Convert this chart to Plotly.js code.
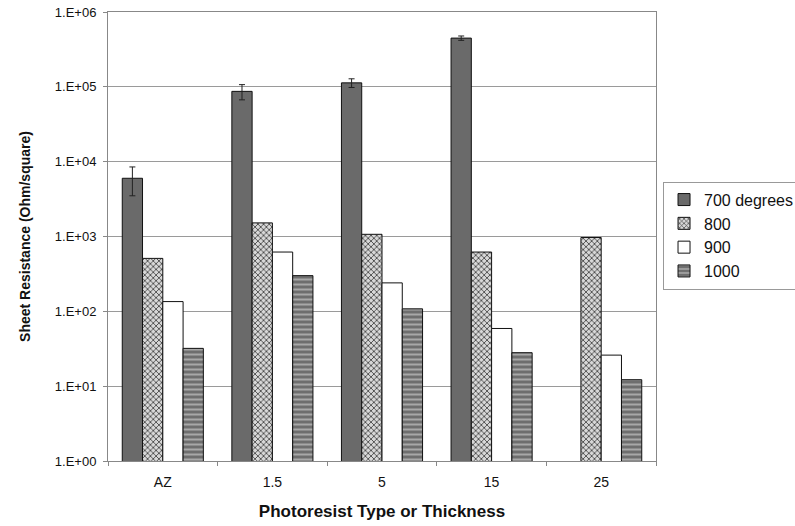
<!DOCTYPE html>
<html>
<head>
<meta charset="utf-8">
<script src="https://cdn.plot.ly/plotly-3.0.1.min.js"></script>
<style>html,body{margin:0;padding:0;background:#fff;}#chart{width:795px;height:526px;}</style>
</head>
<body>
<div id="chart"></div>
<script>
const categories = ["AZ", "1.5", "5", "15", "25"];
const seriesNames = ["700 degrees", "800", "900", "1000"];
const v700 = [6000, 87000, 113000, 448000, null];
const e700 = [2500, 20000, 15000, 30000, 0];
const v800 = [510, 1520, 1070, 620, 970];
const v900 = [135, 620, 240, 59, 26];
const v1000 = [32, 300, 108, 28, 12.2];
const yTickVals = [1, 10, 100, 1000, 10000, 100000, 1000000];
const yTickText = ["1.E+00", "1.E+01", "1.E+02", "1.E+03", "1.E+04", "1.E+05", "1.E+06"];

const line = {color: "#111", width: 1};
const traces = [
  {type: "bar", name: seriesNames[0], x: categories, y: v700,
   marker: {color: "#6a6a6a", line: line},
   error_y: {type: "data", array: e700, visible: true, color: "#222", thickness: 1, width: 3}},
  {type: "bar", name: seriesNames[1], x: categories, y: v800,
   marker: {color: "#ffffff", line: line, pattern: {shape: "x", fgcolor: "#333", bgcolor: "#d8d8d8", size: 4, solidity: 0.35}}},
  {type: "bar", name: seriesNames[2], x: categories, y: v900,
   marker: {color: "#ffffff", line: line}},
  {type: "bar", name: seriesNames[3], x: categories, y: v1000,
   marker: {color: "#6e6e6e", line: line, pattern: {shape: "-", fgcolor: "#a8a8a8", bgcolor: "#6e6e6e", size: 5, solidity: 0.4}}}
];

const layout = {
  width: 795, height: 526,
  margin: {l: 108, r: 139, t: 12, b: 65, autoexpand: false},
  paper_bgcolor: "#fff", plot_bgcolor: "#fff",
  font: {family: "Liberation Sans, Arial, sans-serif", color: "#111", size: 12},
  barmode: "group", bargap: 0.26, bargroupgap: 0,
  showlegend: true,
  legend: {xref: "container", yref: "container", x: 0.834, y: 0.552, xanchor: "left", yanchor: "middle",
           bordercolor: "#999", borderwidth: 1, bgcolor: "#fff",
           font: {size: 16, family: "Liberation Sans, Arial, sans-serif"},
           tracegroupgap: 0, itemwidth: 30},
  xaxis: {type: "category", showline: true, linecolor: "#888", mirror: true,
          ticks: "outside", tickson: "boundaries", ticklen: 4, tickcolor: "#888",
          tickfont: {size: 14}, showgrid: false, ticklabelstandoff: 8,
          title: {text: "<b>Photoresist Type or Thickness</b>", font: {size: 17}, standoff: 16}},
  yaxis: {type: "log", range: [0, 6], tickvals: yTickVals, ticktext: yTickText,
          showline: true, linecolor: "#888", mirror: true,
          ticks: "outside", ticklen: 4, tickcolor: "#888",
          showgrid: true, gridcolor: "#9a9a9a", gridwidth: 1,
          tickfont: {size: 13}, zeroline: false, ticklabelstandoff: 4,
          title: {text: "<b>Sheet Resistance (Ohm/square)</b>", font: {size: 14}, standoff: 20}}
};

Plotly.newPlot("chart", traces, layout, {displayModeBar: false, staticPlot: true});
</script>
</body>
</html>
